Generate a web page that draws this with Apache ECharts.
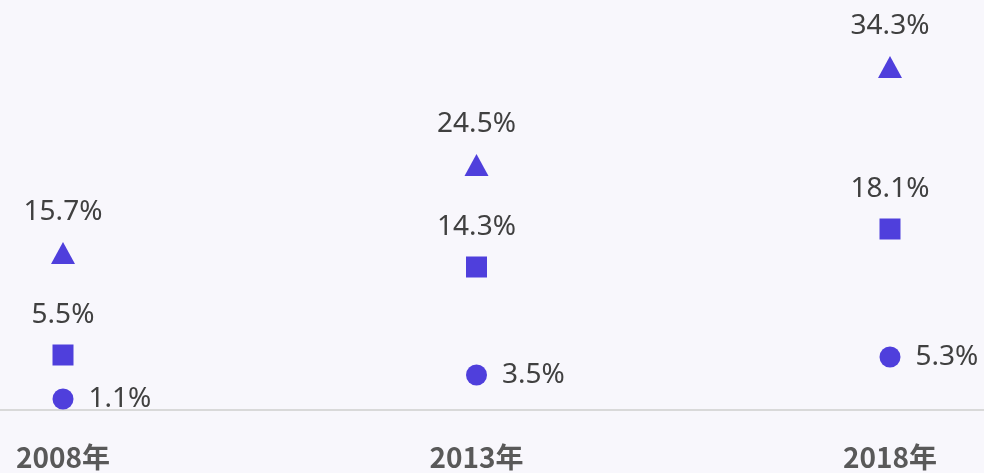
<!DOCTYPE html>
<html>
<head>
<meta charset="utf-8">
<script src="https://cdn.jsdelivr.net/npm/echarts@6/dist/echarts.min.js"></script>
<style>
  html, body { margin: 0; padding: 0; background: #f8f7fc; }
  #chart { width: 984px; height: 473px; }
</style>
</head>
<body>
<div id="chart"></div>
<script>
const years = ['2008年', '2013年', '2018年']
const triangleValues = [15.7, 24.5, 34.3]
const squareValues = [5.5, 14.3, 18.1]
const circleValues = [1.1, 3.5, 5.3]

const markColor = '#4f3fdc'
const labelFont = { fontFamily: 'Noto Sans', fontSize: 28, color: '#404040' }

const chart = echarts.init(document.getElementById('chart'))

const makeSeries = (data, symbol, size, labelPos, distance) => ({
  type: 'scatter',
  data: data,
  symbol: symbol,
  symbolSize: size,
  itemStyle: { color: markColor, opacity: 1 },
  label: {
    show: true,
    position: labelPos,
    distance: distance,
    formatter: p => p.value.toFixed(1) + '%',
    ...labelFont
  },
  emphasis: { disabled: true }
})

chart.setOption({
  backgroundColor: '#f8f7fc',
  animation: false,
  grid: [
    { left: 63, right: 94, top: 10, bottom: 63 },
    // full width grid, only used for the baseline
    { left: 0, right: 0, top: 10, bottom: 63 }
  ],
  xAxis: [
    {
      type: 'category',
      data: years,
      boundaryGap: false,
      axisLine: { show: false },
      axisTick: { show: false },
      axisLabel: {
        margin: 33,
        color: '#595959',
        fontWeight: 'bold',
        fontSize: 28,
        fontFamily: 'Noto Sans CJK SC'
      },
      splitLine: { show: false }
    },
    {
      type: 'category',
      gridIndex: 1,
      data: [''],
      axisLine: { show: true, lineStyle: { color: '#d9d9d9', width: 2 } },
      axisTick: { show: false },
      axisLabel: { show: false },
      splitLine: { show: false }
    }
  ],
  yAxis: [
    { type: 'value', min: 0, max: 40, show: false },
    { type: 'value', gridIndex: 1, min: 0, max: 40, show: false }
  ],
  series: [
    makeSeries(triangleValues, 'triangle', [24, 22], 'top', 16),
    makeSeries(squareValues, 'rect', 21, 'top', 15),
    makeSeries(circleValues, 'circle', 21, 'right', 15)
  ]
})
</script>
</body>
</html>
